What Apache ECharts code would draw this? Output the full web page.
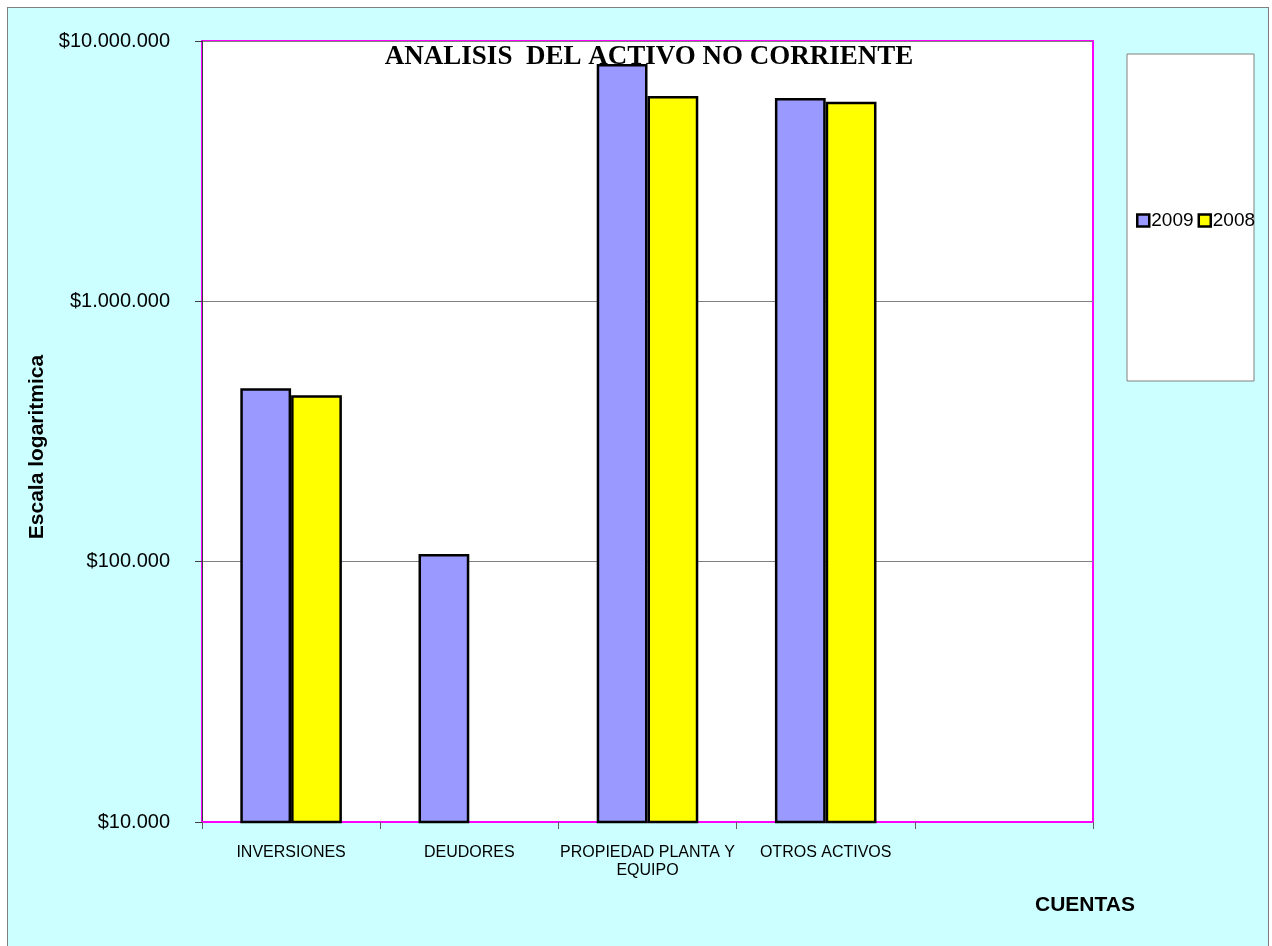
<!DOCTYPE html>
<html>
<head>
<meta charset="utf-8">
<script src="https://cdn.jsdelivr.net/npm/echarts@6/dist/echarts.min.js"></script>
<style>
html,body{margin:0;padding:0;background:#ffffff;}
#bg{position:absolute;left:7px;top:7px;width:1262px;height:945px;background:#CCFFFF;border:1px solid #808080;box-sizing:border-box;}
#chart{position:absolute;left:0;top:0;width:1272px;height:946px;}
</style>
</head>
<body>
<div id="bg"></div>
<div id="chart"></div>
<script>
const categories = ['INVERSIONES', 'DEUDORES', 'PROPIEDAD PLANTA Y\nEQUIPO', 'OTROS ACTIVOS', ''];
const seriesNames = ['2009', '2008'];
const values2009 = [464000, 107000, 8160000, 6040000, null];
const values2008 = [436000, 10000, 6150000, 5840000, null];
const yTicks = [10000, 100000, 1000000, 10000000];

function fmtMoney(v) {
  return '$' + Math.round(v).toString().replace(/\B(?=(\d{3})+(?!\d))/g, '.');
}

const chart = echarts.init(document.getElementById('chart'));
chart.setOption({
  backgroundColor: 'transparent',
  animation: false,
  grid: {
    left: 202, top: 41, right: 179, bottom: 124,
    show: true, backgroundColor: '#ffffff', borderColor: '#FF00FF', borderWidth: 2
  },
  legend: {
    show: true,
    data: seriesNames,
    left: 1131, top: 206,
    itemWidth: 12, itemHeight: 12, itemGap: 4,
    icon: 'rect',
    z: 10,
    itemStyle: { borderWidth: 2.5, borderColor: '#000' },
    textStyle: { fontFamily: 'Liberation Sans, Arial', fontSize: 19, color: '#000', padding: [0, 0, 0, -3] }
  },
  xAxis: {
    type: 'category',
    data: categories,
    axisLine: { show: true, lineStyle: { color: '#FF00FF', width: 2 } },
    axisTick: { show: true, length: 7, lineStyle: { color: '#606060' } },
    axisLabel: { interval: 0, margin: 22, fontFamily: 'Liberation Sans, Arial', fontSize: 16, color: '#000', lineHeight: 18 },
    splitLine: { show: false }
  },
  yAxis: {
    type: 'log',
    logBase: 10,
    min: yTicks[0],
    max: yTicks[yTicks.length - 1],
    axisLine: { show: true, lineStyle: { color: '#404040', width: 1 } },
    axisTick: { show: true, length: 7, inside: false, lineStyle: { color: '#404040' } },
    axisLabel: { margin: 32, fontFamily: 'Liberation Sans, Arial', fontSize: 20, color: '#000', formatter: fmtMoney },
    splitLine: { show: true, lineStyle: { color: '#808080', width: 1 } }
  },
  series: [
    {
      name: seriesNames[0], type: 'bar', data: values2009,
      barGap: '0%', barCategoryGap: '43%',
      itemStyle: { color: '#9999FF', borderColor: '#000000', borderWidth: 2.5 }
    },
    {
      name: seriesNames[1], type: 'bar', data: values2008,
      barGap: '0%', barCategoryGap: '43%',
      itemStyle: { color: '#FFFF00', borderColor: '#000000', borderWidth: 2.5 }
    }
  ],
  graphic: [
    {
      type: 'rect', z: 1, silent: true,
      shape: { x: 1127, y: 54, width: 127, height: 327 },
      style: { fill: '#ffffff', stroke: '#808080', lineWidth: 1 }
    },
    {
      type: 'text', z: 100, x: 649, y: 57,
      style: { text: 'ANALISIS  DEL ACTIVO NO CORRIENTE', fill: '#000', font: 'bold 27px "Liberation Serif", "Times New Roman", serif', textAlign: 'center', textVerticalAlign: 'middle' }
    },
    {
      type: 'text', z: 100, x: 37, y: 447, rotation: Math.PI / 2,
      style: { text: 'Escala logaritmica', fill: '#000', font: 'bold 21px "Liberation Sans", Arial, sans-serif', textAlign: 'center', textVerticalAlign: 'middle' }
    },
    {
      type: 'text', z: 100, x: 1085, y: 905,
      style: { text: 'CUENTAS', fill: '#000', font: 'bold 21px "Liberation Sans", Arial, sans-serif', textAlign: 'center', textVerticalAlign: 'middle' }
    }
  ]
});
</script>
</body>
</html>
